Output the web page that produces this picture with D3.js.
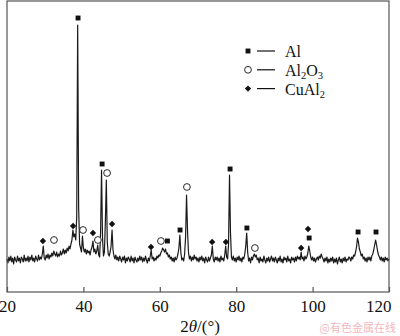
<!DOCTYPE html>
<html>
<head>
<meta charset="utf-8">
<script src="https://cdn.jsdelivr.net/npm/d3@7"></script>
<style>
  body { margin: 0; background: #fff; }
  text { font-family: "Liberation Serif", "Times New Roman", "DejaVu Serif", serif; fill: #111; }
</style>
</head>
<body>
<div id="box-div"></div>
<script>
// XRD scan: 2θ from 20° to 120°, step 0.25°
const scanStart = 20
const scanStep = 0.25
const intensity = [
  33,29,35,31,36,30,34,28,35,32,30,36,31,34,29,35,33,30,37,31,
  34,31,36,30,35,32,37,31,34,30,36,33,31,37,32,35,33,38,46,34,
  32,37,34,38,33,37,35,39,36,41,38,36,40,35,38,36,41,37,39,43,
  38,42,39,44,41,46,43,48,52,62,55,58,52,75,267,85,48,44,40,56,
  44,40,43,38,42,39,41,37,42,45,51,40,43,38,41,47,37,35,60,122,
  55,36,40,70,112,50,38,36,40,46,62,42,36,33,37,32,35,31,36,33,
  30,35,32,36,29,34,31,35,33,30,36,31,34,29,35,32,30,34,31,36,
  32,35,30,34,31,36,32,29,34,31,36,42,33,35,31,34,32,36,34,37,
  36,39,41,44,42,40,43,38,39,35,37,33,35,31,34,30,35,32,34,38,
  44,57,40,32,34,31,38,55,97,62,40,33,36,31,35,32,37,33,35,31,
  34,30,35,32,36,31,34,29,35,32,30,35,31,34,37,46,33,30,35,32,
  35,31,34,30,36,32,34,31,37,46,35,33,48,117,60,35,32,36,31,34,
  30,35,32,36,31,34,30,35,33,38,46,59,40,31,34,29,35,32,36,38,
  35,37,32,34,29,35,31,33,30,36,32,29,34,31,35,30,33,36,31,34,
  30,35,32,29,34,31,36,30,33,29,35,32,34,30,36,31,33,29,35,32,
  34,30,35,31,36,33,35,32,40,33,35,31,36,33,35,39,46,41,35,32,
  35,31,34,30,33,35,32,36,34,38,35,33,30,34,31,35,29,33,30,34,
  31,35,29,33,30,34,28,32,35,30,33,29,34,31,35,30,33,32,35,34,
  31,35,33,37,36,40,45,54,50,43,40,36,38,33,35,31,34,30,35,32,
  35,31,36,38,42,47,52,47,41,37,35,32,35,31,34,30,35,32,34,31,
  33
]
// phase markers: [2θ, intensity]
const alPeaks = [[38.6, 274], [44.9, 128], [62.0, 51], [65.3, 62], [78.4, 123], [82.8, 64], [99.1, 54], [111.9, 60], [116.6, 60]]
const al2o3Peaks = [[32.3, 52], [39.9, 62], [43.8, 52], [46.2, 119], [60.3, 51], [67.1, 105], [84.9, 44]]
const cual2Peaks = [[29.4, 51], [37.3, 66], [42.5, 59], [47.5, 68], [57.7, 45], [73.7, 50], [77.3, 50], [97.0, 44], [98.8, 63]]
const xTicks = [20, 40, 60, 80, 100, 120]

let dms = { width: 400, height: 336, margin: { top: 1, right: 11, bottom: 44, left: 7 } }
dms.chartWidth = dms.width - dms.margin.left - dms.margin.right
dms.chartHeight = dms.height - dms.margin.top - dms.margin.bottom

const box = d3.select('#box-div').append('svg')
    .attr('width', dms.width)
    .attr('height', dms.height)

const content = box.append('g')
    .attr('transform', `translate(${dms.margin.left}, ${dms.margin.top})`)

const xScale = d3.scaleLinear().domain([20, 120]).range([0, dms.chartWidth])
const yScale = d3.scaleLinear().domain([0, 291]).range([dms.chartHeight, 0])

const scan = intensity.map((v, i) => [scanStart + i * scanStep, v])

// 曲线
content.append('path')
    .datum(scan)
    .attr('fill', 'none')
    .attr('stroke', '#1a1a1a')
    .attr('stroke-width', 1.2)
    .attr('stroke-linejoin', 'round')
    .attr('d', d3.line().x(d => xScale(d[0])).y(d => yScale(d[1])))

// 边框
content.append('rect')
    .attr('x', 0).attr('y', 0)
    .attr('width', dms.chartWidth).attr('height', dms.chartHeight)
    .attr('fill', 'none')
    .attr('stroke', '#555')
    .attr('stroke-width', 1.2)

// x轴
const xAxis = d3.axisBottom(xScale)
    .tickValues(xTicks)
    .tickSize(-5)
    .tickSizeOuter(0)
    .tickPadding(8)
const gx = content.append('g')
    .attr('transform', `translate(0, ${dms.chartHeight})`)
    .attr('font-family', null)
    .call(xAxis)
gx.attr('font-family', '"Liberation Serif", "Times New Roman", serif')
gx.select('.domain').remove()
gx.selectAll('.tick line').attr('stroke', '#555').attr('stroke-width', 1.2)
gx.selectAll('.tick text')
    .style('font-family', '"Liberation Serif", "Times New Roman", serif')
    .style('font-size', '17px')
    .attr('fill', '#111')
// 最后一个刻度标签靠右对齐
gx.selectAll('.tick text')
    .filter(d => d === 120)
    .attr('text-anchor', 'end')
    .attr('x', 2)

// 标记
const sym = (type, size) => d3.symbol().type(type).size(size)()
const markerGroups = [
    { data: alPeaks, path: sym(d3.symbolSquare, 24), fill: '#111', stroke: 'none', rot: 0 },
    { data: al2o3Peaks, path: sym(d3.symbolCircle, 36), fill: '#fff', stroke: '#111', rot: 0 },
    { data: cual2Peaks, path: sym(d3.symbolSquare, 20), fill: '#111', stroke: 'none', rot: 45 }
]
markerGroups.forEach(m => {
    content.selectAll(null)
        .data(m.data)
        .enter()
        .append('path')
        .attr('d', m.path)
        .attr('transform', d => `translate(${xScale(d[0])}, ${yScale(d[1])}) rotate(${m.rot})`)
        .attr('fill', m.fill)
        .attr('stroke', m.stroke)
        .attr('stroke-width', 0.9)
})

// 图例
const legendItems = [
    { path: markerGroups[0], label: [['Al', 0]] },
    { path: markerGroups[1], label: [['Al', 0], ['2', 1], ['O', 0], ['3', 1]] },
    { path: markerGroups[2], label: [['CuAl', 0], ['2', 1]] }
]
const legend = box.selectAll('.legend')
    .data(legendItems)
    .enter()
    .append('g')
    .attr('class', 'legend')
    .attr('transform', (d, i) => `translate(248, ${51 + i * 18.8})`)
legend.append('path')
    .attr('d', d => d.path.path)
    .attr('transform', d => `rotate(${d.path.rot})`)
    .attr('fill', d => d.path.fill)
    .attr('stroke', d => d.path.stroke)
    .attr('stroke-width', 0.9)
legend.append('line')
    .attr('x1', 9).attr('x2', 27).attr('y1', 0).attr('y2', 0)
    .attr('stroke', '#111').attr('stroke-width', 1.2)
const ltext = legend.append('text')
    .attr('x', 37).attr('y', 6)
    .style('font-size', '16px')
ltext.selectAll('tspan')
    .data(d => d.label)
    .enter()
    .append('tspan')
    .text(d => d[0])
    .style('font-size', d => d[1] ? '10.5px' : '16px')
    .attr('dy', (d, i) => {
        if (d[1]) return 3
        return i > 0 ? -3 : 0
    })

// x轴标题
const xt = box.append('text')
    .attr('x', 200).attr('y', 332)
    .attr('text-anchor', 'middle')
    .style('font-size', '17px')
xt.append('tspan').text('2')
xt.append('tspan').text('θ').style('font-style', 'italic')
xt.append('tspan').text('/(°)')

// 水印
box.append('text')
    .attr('x', 396).attr('y', 332)
    .attr('text-anchor', 'end')
    .style('font-family', '"Noto Sans CJK SC", sans-serif')
    .style('font-size', '11px')
    .style('fill', '#f2b8c0')
    .text('@有色金属在线')
</script>
</body>
</html>
